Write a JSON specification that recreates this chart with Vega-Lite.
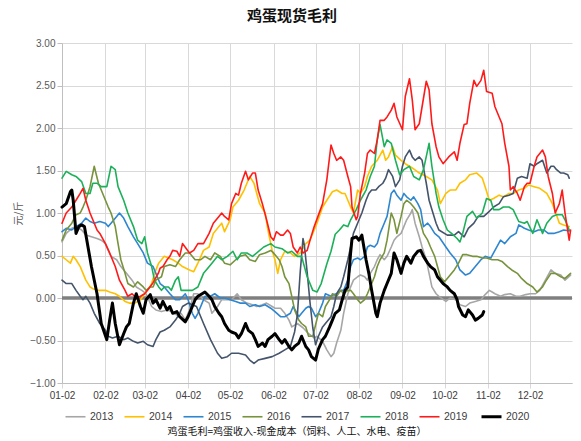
{
"$schema": "https://vega.github.io/schema/vega-lite/v6.json",
"width": 510, "height": 340,
"autosize": {"type": "none"},
"padding": {"left": 62, "top": 43, "right": 9, "bottom": 58},
"background": "white",
"config": {"view": {"stroke": null}, "font": "Liberation Sans"},
"title": {"text": "鸡蛋现货毛利", "font": "Noto Sans CJK SC", "fontSize": 15, "fontWeight": "bold", "color": "#111111", "anchor": "middle", "dx": -25, "offset": 14},
"layer": [
{"data": {"values": [{}]}, "mark": {"type": "rule", "color": "#7F7F7F", "strokeWidth": 3.5}, "encoding": {"y": {"datum": 0, "type": "quantitative", "scale": {"domain": [-1, 3], "nice": false}}}},
{"data": {"values": [
{"year":"2013","day":2,"v":0.66},{"year":"2013","day":5,"v":0.76},{"year":"2013","day":9,"v":0.82},{"year":"2013","day":12,"v":0.84},{"year":"2013","day":16,"v":0.80},{"year":"2013","day":19,"v":0.74},{"year":"2013","day":23,"v":0.72},{"year":"2013","day":27,"v":0.70},{"year":"2013","day":30,"v":0.68},{"year":"2013","day":33,"v":0.64},{"year":"2013","day":35,"v":0.56},{"year":"2013","day":37,"v":0.49},{"year":"2013","day":41,"v":0.45},{"year":"2013","day":44,"v":0.37},{"year":"2013","day":48,"v":0.29},{"year":"2013","day":52,"v":0.21},{"year":"2013","day":55,"v":0.13},{"year":"2013","day":59,"v":0.09},{"year":"2013","day":62,"v":0.05},{"year":"2013","day":66,"v":-0.10},{"year":"2013","day":69,"v":-0.14},{"year":"2013","day":73,"v":-0.16},{"year":"2013","day":77,"v":-0.14},{"year":"2013","day":80,"v":-0.16},{"year":"2013","day":84,"v":-0.20},{"year":"2013","day":87,"v":-0.18},{"year":"2013","day":90,"v":-0.26},{"year":"2013","day":93,"v":-0.14},{"year":"2013","day":96,"v":0.05},{"year":"2013","day":99,"v":0.05},{"year":"2013","day":103,"v":-0.02},{"year":"2013","day":107,"v":-0.06},{"year":"2013","day":109,"v":-0.18},{"year":"2013","day":113,"v":-0.10},{"year":"2013","day":116,"v":-0.02},{"year":"2013","day":120,"v":-0.02},{"year":"2013","day":123,"v":-0.02},{"year":"2013","day":127,"v":0.05},{"year":"2013","day":130,"v":-0.02},{"year":"2013","day":134,"v":-0.06},{"year":"2013","day":138,"v":-0.08},{"year":"2013","day":141,"v":-0.10},{"year":"2013","day":145,"v":-0.08},{"year":"2013","day":148,"v":-0.06},{"year":"2013","day":152,"v":-0.10},{"year":"2013","day":154,"v":-0.12},{"year":"2013","day":158,"v":-0.12},{"year":"2013","day":161,"v":-0.18},{"year":"2013","day":164,"v":-0.26},{"year":"2013","day":166,"v":-0.34},{"year":"2013","day":170,"v":-0.30},{"year":"2013","day":174,"v":-0.35},{"year":"2013","day":178,"v":-0.42},{"year":"2013","day":182,"v":-0.47},{"year":"2013","day":184,"v":-0.45},{"year":"2013","day":188,"v":-0.51},{"year":"2013","day":191,"v":-0.61},{"year":"2013","day":194,"v":-0.69},{"year":"2013","day":196,"v":-0.65},{"year":"2013","day":198,"v":-0.53},{"year":"2013","day":201,"v":-0.38},{"year":"2013","day":203,"v":-0.18},{"year":"2013","day":206,"v":0.05},{"year":"2013","day":208,"v":0.13},{"year":"2013","day":210,"v":0.21},{"year":"2013","day":213,"v":0.25},{"year":"2013","day":215,"v":0.27},{"year":"2013","day":218,"v":0.25},{"year":"2013","day":220,"v":0.21},{"year":"2013","day":222,"v":0.29},{"year":"2013","day":225,"v":0.37},{"year":"2013","day":227,"v":0.45},{"year":"2013","day":229,"v":0.51},{"year":"2013","day":232,"v":0.45},{"year":"2013","day":234,"v":0.49},{"year":"2013","day":237,"v":0.60},{"year":"2013","day":239,"v":0.68},{"year":"2013","day":241,"v":0.72},{"year":"2013","day":244,"v":0.76},{"year":"2013","day":246,"v":0.84},{"year":"2013","day":248,"v":0.92},{"year":"2013","day":251,"v":1.00},{"year":"2013","day":252,"v":1.04},{"year":"2013","day":254,"v":0.88},{"year":"2013","day":257,"v":0.72},{"year":"2013","day":259,"v":0.60},{"year":"2013","day":262,"v":0.45},{"year":"2013","day":264,"v":0.29},{"year":"2013","day":266,"v":0.13},{"year":"2013","day":269,"v":0.05},{"year":"2013","day":271,"v":0.02},{"year":"2013","day":276,"v":-0.04},{"year":"2013","day":279,"v":0.00},{"year":"2013","day":283,"v":-0.02},{"year":"2013","day":286,"v":-0.08},{"year":"2013","day":290,"v":-0.10},{"year":"2013","day":293,"v":-0.06},{"year":"2013","day":297,"v":-0.04},{"year":"2013","day":301,"v":-0.02},{"year":"2013","day":304,"v":0.04},{"year":"2013","day":307,"v":0.09},{"year":"2013","day":309,"v":0.07},{"year":"2013","day":311,"v":0.05},{"year":"2013","day":315,"v":0.02},{"year":"2013","day":318,"v":0.04},{"year":"2013","day":322,"v":0.05},{"year":"2013","day":326,"v":0.02},{"year":"2013","day":329,"v":0.02},{"year":"2013","day":333,"v":0.04},{"year":"2013","day":336,"v":0.05},{"year":"2013","day":340,"v":0.05},{"year":"2013","day":343,"v":0.09},{"year":"2013","day":347,"v":0.21},{"year":"2013","day":351,"v":0.33},{"year":"2013","day":354,"v":0.29},{"year":"2013","day":358,"v":0.27},{"year":"2013","day":361,"v":0.21},{"year":"2013","day":365,"v":0.27},
{"year":"2014","day":2,"v":0.49},{"year":"2014","day":5,"v":0.45},{"year":"2014","day":8,"v":0.41},{"year":"2014","day":10,"v":0.49},{"year":"2014","day":12,"v":0.45},{"year":"2014","day":15,"v":0.37},{"year":"2014","day":17,"v":0.29},{"year":"2014","day":19,"v":0.21},{"year":"2014","day":22,"v":0.13},{"year":"2014","day":24,"v":0.11},{"year":"2014","day":28,"v":0.09},{"year":"2014","day":33,"v":0.09},{"year":"2014","day":36,"v":0.07},{"year":"2014","day":40,"v":0.05},{"year":"2014","day":43,"v":0.02},{"year":"2014","day":47,"v":-0.04},{"year":"2014","day":50,"v":-0.06},{"year":"2014","day":54,"v":-0.06},{"year":"2014","day":58,"v":-0.02},{"year":"2014","day":61,"v":0.05},{"year":"2014","day":63,"v":0.09},{"year":"2014","day":66,"v":0.17},{"year":"2014","day":68,"v":0.29},{"year":"2014","day":71,"v":0.41},{"year":"2014","day":73,"v":0.45},{"year":"2014","day":75,"v":0.49},{"year":"2014","day":78,"v":0.47},{"year":"2014","day":81,"v":0.45},{"year":"2014","day":85,"v":0.41},{"year":"2014","day":88,"v":0.37},{"year":"2014","day":93,"v":0.33},{"year":"2014","day":96,"v":0.31},{"year":"2014","day":99,"v":0.41},{"year":"2014","day":103,"v":0.56},{"year":"2014","day":107,"v":0.60},{"year":"2014","day":110,"v":0.76},{"year":"2014","day":114,"v":0.84},{"year":"2014","day":116,"v":0.88},{"year":"2014","day":118,"v":0.78},{"year":"2014","day":122,"v":0.92},{"year":"2014","day":124,"v":1.07},{"year":"2014","day":128,"v":1.15},{"year":"2014","day":132,"v":1.27},{"year":"2014","day":134,"v":1.35},{"year":"2014","day":136,"v":1.43},{"year":"2014","day":139,"v":1.35},{"year":"2014","day":141,"v":1.23},{"year":"2014","day":143,"v":1.11},{"year":"2014","day":147,"v":1.00},{"year":"2014","day":149,"v":0.80},{"year":"2014","day":152,"v":0.56},{"year":"2014","day":154,"v":0.45},{"year":"2014","day":156,"v":0.29},{"year":"2014","day":158,"v":0.45},{"year":"2014","day":161,"v":0.55},{"year":"2014","day":165,"v":0.53},{"year":"2014","day":168,"v":0.49},{"year":"2014","day":172,"v":0.53},{"year":"2014","day":176,"v":0.64},{"year":"2014","day":179,"v":0.68},{"year":"2014","day":184,"v":0.88},{"year":"2014","day":188,"v":1.07},{"year":"2014","day":191,"v":1.15},{"year":"2014","day":195,"v":1.25},{"year":"2014","day":198,"v":1.27},{"year":"2014","day":202,"v":1.23},{"year":"2014","day":204,"v":1.23},{"year":"2014","day":208,"v":1.07},{"year":"2014","day":210,"v":1.00},{"year":"2014","day":213,"v":1.27},{"year":"2014","day":215,"v":1.23},{"year":"2014","day":218,"v":1.31},{"year":"2014","day":220,"v":1.43},{"year":"2014","day":223,"v":1.55},{"year":"2014","day":227,"v":1.62},{"year":"2014","day":231,"v":1.74},{"year":"2014","day":233,"v":1.62},{"year":"2014","day":235,"v":1.66},{"year":"2014","day":238,"v":1.78},{"year":"2014","day":240,"v":1.68},{"year":"2014","day":244,"v":1.62},{"year":"2014","day":247,"v":1.58},{"year":"2014","day":252,"v":1.53},{"year":"2014","day":257,"v":1.47},{"year":"2014","day":262,"v":1.43},{"year":"2014","day":266,"v":1.39},{"year":"2014","day":270,"v":1.27},{"year":"2014","day":272,"v":1.11},{"year":"2014","day":276,"v":1.23},{"year":"2014","day":279,"v":1.27},{"year":"2014","day":283,"v":1.27},{"year":"2014","day":286,"v":1.35},{"year":"2014","day":290,"v":1.39},{"year":"2014","day":293,"v":1.45},{"year":"2014","day":298,"v":1.47},{"year":"2014","day":302,"v":1.41},{"year":"2014","day":304,"v":1.31},{"year":"2014","day":307,"v":1.15},{"year":"2014","day":310,"v":1.17},{"year":"2014","day":314,"v":1.21},{"year":"2014","day":317,"v":1.19},{"year":"2014","day":321,"v":1.23},{"year":"2014","day":324,"v":1.23},{"year":"2014","day":328,"v":1.27},{"year":"2014","day":332,"v":1.29},{"year":"2014","day":335,"v":1.33},{"year":"2014","day":339,"v":1.31},{"year":"2014","day":343,"v":1.29},{"year":"2014","day":348,"v":1.23},{"year":"2014","day":352,"v":1.11},{"year":"2014","day":354,"v":1.02},{"year":"2014","day":357,"v":0.88},{"year":"2014","day":360,"v":0.86},{"year":"2014","day":364,"v":0.84},
{"year":"2015","day":2,"v":0.78},{"year":"2015","day":5,"v":0.82},{"year":"2015","day":9,"v":0.80},{"year":"2015","day":12,"v":0.84},{"year":"2015","day":16,"v":0.88},{"year":"2015","day":19,"v":0.94},{"year":"2015","day":22,"v":0.90},{"year":"2015","day":25,"v":0.88},{"year":"2015","day":29,"v":0.90},{"year":"2015","day":33,"v":0.88},{"year":"2015","day":35,"v":0.84},{"year":"2015","day":37,"v":0.88},{"year":"2015","day":41,"v":0.96},{"year":"2015","day":43,"v":1.00},{"year":"2015","day":46,"v":0.94},{"year":"2015","day":49,"v":0.84},{"year":"2015","day":53,"v":0.72},{"year":"2015","day":56,"v":0.64},{"year":"2015","day":60,"v":0.53},{"year":"2015","day":63,"v":0.41},{"year":"2015","day":67,"v":0.37},{"year":"2015","day":69,"v":0.29},{"year":"2015","day":72,"v":0.17},{"year":"2015","day":75,"v":0.13},{"year":"2015","day":79,"v":0.05},{"year":"2015","day":83,"v":-0.02},{"year":"2015","day":86,"v":-0.02},{"year":"2015","day":90,"v":0.05},{"year":"2015","day":92,"v":-0.02},{"year":"2015","day":95,"v":-0.18},{"year":"2015","day":97,"v":-0.24},{"year":"2015","day":99,"v":-0.18},{"year":"2015","day":102,"v":-0.06},{"year":"2015","day":104,"v":0.02},{"year":"2015","day":108,"v":0.02},{"year":"2015","day":111,"v":0.05},{"year":"2015","day":115,"v":0.00},{"year":"2015","day":118,"v":0.00},{"year":"2015","day":122,"v":-0.02},{"year":"2015","day":126,"v":-0.04},{"year":"2015","day":129,"v":-0.06},{"year":"2015","day":133,"v":-0.06},{"year":"2015","day":136,"v":-0.10},{"year":"2015","day":140,"v":-0.08},{"year":"2015","day":143,"v":-0.10},{"year":"2015","day":147,"v":-0.08},{"year":"2015","day":151,"v":-0.12},{"year":"2015","day":154,"v":-0.16},{"year":"2015","day":158,"v":-0.22},{"year":"2015","day":161,"v":-0.22},{"year":"2015","day":165,"v":-0.18},{"year":"2015","day":167,"v":-0.10},{"year":"2015","day":171,"v":-0.22},{"year":"2015","day":173,"v":-0.18},{"year":"2015","day":176,"v":-0.12},{"year":"2015","day":178,"v":-0.10},{"year":"2015","day":180,"v":-0.12},{"year":"2015","day":183,"v":-0.22},{"year":"2015","day":185,"v":-0.18},{"year":"2015","day":188,"v":-0.06},{"year":"2015","day":190,"v":0.05},{"year":"2015","day":194,"v":0.02},{"year":"2015","day":196,"v":0.04},{"year":"2015","day":198,"v":0.05},{"year":"2015","day":201,"v":0.09},{"year":"2015","day":203,"v":0.09},{"year":"2015","day":206,"v":0.21},{"year":"2015","day":208,"v":0.37},{"year":"2015","day":210,"v":0.45},{"year":"2015","day":213,"v":0.47},{"year":"2015","day":215,"v":0.45},{"year":"2015","day":218,"v":0.49},{"year":"2015","day":220,"v":0.60},{"year":"2015","day":222,"v":0.62},{"year":"2015","day":225,"v":0.60},{"year":"2015","day":227,"v":0.64},{"year":"2015","day":229,"v":0.76},{"year":"2015","day":232,"v":0.88},{"year":"2015","day":234,"v":0.96},{"year":"2015","day":237,"v":1.23},{"year":"2015","day":239,"v":1.27},{"year":"2015","day":241,"v":1.21},{"year":"2015","day":244,"v":1.15},{"year":"2015","day":246,"v":1.23},{"year":"2015","day":248,"v":1.19},{"year":"2015","day":251,"v":1.15},{"year":"2015","day":253,"v":1.19},{"year":"2015","day":256,"v":1.11},{"year":"2015","day":258,"v":1.04},{"year":"2015","day":260,"v":0.84},{"year":"2015","day":263,"v":0.88},{"year":"2015","day":265,"v":0.84},{"year":"2015","day":268,"v":0.76},{"year":"2015","day":271,"v":0.72},{"year":"2015","day":276,"v":0.60},{"year":"2015","day":279,"v":0.53},{"year":"2015","day":283,"v":0.45},{"year":"2015","day":286,"v":0.33},{"year":"2015","day":290,"v":0.27},{"year":"2015","day":293,"v":0.29},{"year":"2015","day":297,"v":0.37},{"year":"2015","day":301,"v":0.45},{"year":"2015","day":304,"v":0.49},{"year":"2015","day":308,"v":0.47},{"year":"2015","day":311,"v":0.56},{"year":"2015","day":315,"v":0.68},{"year":"2015","day":318,"v":0.64},{"year":"2015","day":322,"v":0.72},{"year":"2015","day":326,"v":0.76},{"year":"2015","day":328,"v":0.86},{"year":"2015","day":332,"v":0.82},{"year":"2015","day":335,"v":0.80},{"year":"2015","day":339,"v":0.78},{"year":"2015","day":342,"v":0.80},{"year":"2015","day":346,"v":0.80},{"year":"2015","day":349,"v":0.76},{"year":"2015","day":353,"v":0.76},{"year":"2015","day":357,"v":0.78},{"year":"2015","day":360,"v":0.80},{"year":"2015","day":364,"v":0.79},
{"year":"2016","day":2,"v":0.68},{"year":"2016","day":5,"v":0.80},{"year":"2016","day":9,"v":0.88},{"year":"2016","day":12,"v":0.98},{"year":"2016","day":15,"v":1.00},{"year":"2016","day":17,"v":1.07},{"year":"2016","day":19,"v":1.15},{"year":"2016","day":22,"v":1.31},{"year":"2016","day":25,"v":1.55},{"year":"2016","day":28,"v":1.35},{"year":"2016","day":30,"v":1.27},{"year":"2016","day":33,"v":1.15},{"year":"2016","day":35,"v":1.07},{"year":"2016","day":37,"v":1.00},{"year":"2016","day":40,"v":0.84},{"year":"2016","day":42,"v":0.64},{"year":"2016","day":44,"v":0.45},{"year":"2016","day":47,"v":0.29},{"year":"2016","day":49,"v":0.17},{"year":"2016","day":53,"v":0.13},{"year":"2016","day":56,"v":0.19},{"year":"2016","day":60,"v":0.13},{"year":"2016","day":62,"v":0.09},{"year":"2016","day":65,"v":0.13},{"year":"2016","day":67,"v":0.13},{"year":"2016","day":69,"v":0.21},{"year":"2016","day":73,"v":0.25},{"year":"2016","day":75,"v":0.37},{"year":"2016","day":79,"v":0.39},{"year":"2016","day":83,"v":0.37},{"year":"2016","day":86,"v":0.45},{"year":"2016","day":90,"v":0.53},{"year":"2016","day":93,"v":0.53},{"year":"2016","day":97,"v":0.45},{"year":"2016","day":101,"v":0.45},{"year":"2016","day":104,"v":0.49},{"year":"2016","day":108,"v":0.45},{"year":"2016","day":111,"v":0.53},{"year":"2016","day":115,"v":0.49},{"year":"2016","day":118,"v":0.41},{"year":"2016","day":122,"v":0.39},{"year":"2016","day":126,"v":0.45},{"year":"2016","day":129,"v":0.49},{"year":"2016","day":133,"v":0.51},{"year":"2016","day":136,"v":0.45},{"year":"2016","day":140,"v":0.43},{"year":"2016","day":143,"v":0.51},{"year":"2016","day":147,"v":0.53},{"year":"2016","day":151,"v":0.56},{"year":"2016","day":153,"v":0.53},{"year":"2016","day":157,"v":0.45},{"year":"2016","day":159,"v":0.37},{"year":"2016","day":161,"v":0.25},{"year":"2016","day":164,"v":0.17},{"year":"2016","day":166,"v":0.02},{"year":"2016","day":168,"v":-0.14},{"year":"2016","day":171,"v":-0.26},{"year":"2016","day":173,"v":-0.30},{"year":"2016","day":176,"v":-0.34},{"year":"2016","day":178,"v":-0.45},{"year":"2016","day":181,"v":-0.45},{"year":"2016","day":185,"v":-0.18},{"year":"2016","day":188,"v":-0.22},{"year":"2016","day":190,"v":-0.10},{"year":"2016","day":193,"v":-0.02},{"year":"2016","day":195,"v":0.05},{"year":"2016","day":198,"v":0.02},{"year":"2016","day":201,"v":0.09},{"year":"2016","day":203,"v":0.05},{"year":"2016","day":206,"v":0.09},{"year":"2016","day":208,"v":0.09},{"year":"2016","day":210,"v":0.05},{"year":"2016","day":213,"v":-0.02},{"year":"2016","day":215,"v":-0.06},{"year":"2016","day":218,"v":-0.02},{"year":"2016","day":220,"v":0.05},{"year":"2016","day":222,"v":0.13},{"year":"2016","day":225,"v":0.25},{"year":"2016","day":227,"v":0.37},{"year":"2016","day":229,"v":0.45},{"year":"2016","day":232,"v":0.53},{"year":"2016","day":234,"v":0.68},{"year":"2016","day":237,"v":1.00},{"year":"2016","day":239,"v":0.92},{"year":"2016","day":241,"v":0.76},{"year":"2016","day":244,"v":0.96},{"year":"2016","day":246,"v":1.11},{"year":"2016","day":248,"v":1.15},{"year":"2016","day":251,"v":1.11},{"year":"2016","day":253,"v":1.07},{"year":"2016","day":256,"v":1.00},{"year":"2016","day":258,"v":0.88},{"year":"2016","day":260,"v":0.76},{"year":"2016","day":263,"v":0.68},{"year":"2016","day":265,"v":0.60},{"year":"2016","day":268,"v":0.49},{"year":"2016","day":270,"v":0.37},{"year":"2016","day":272,"v":0.25},{"year":"2016","day":275,"v":0.19},{"year":"2016","day":277,"v":0.23},{"year":"2016","day":282,"v":0.33},{"year":"2016","day":285,"v":0.41},{"year":"2016","day":288,"v":0.51},{"year":"2016","day":291,"v":0.51},{"year":"2016","day":295,"v":0.49},{"year":"2016","day":298,"v":0.49},{"year":"2016","day":302,"v":0.47},{"year":"2016","day":305,"v":0.47},{"year":"2016","day":309,"v":0.45},{"year":"2016","day":313,"v":0.45},{"year":"2016","day":316,"v":0.43},{"year":"2016","day":320,"v":0.37},{"year":"2016","day":323,"v":0.33},{"year":"2016","day":327,"v":0.29},{"year":"2016","day":330,"v":0.23},{"year":"2016","day":334,"v":0.17},{"year":"2016","day":338,"v":0.13},{"year":"2016","day":341,"v":0.07},{"year":"2016","day":345,"v":0.13},{"year":"2016","day":347,"v":0.19},{"year":"2016","day":351,"v":0.29},{"year":"2016","day":354,"v":0.29},{"year":"2016","day":358,"v":0.25},{"year":"2016","day":361,"v":0.23},{"year":"2016","day":365,"v":0.29},
{"year":"2017","day":2,"v":0.21},{"year":"2017","day":5,"v":0.17},{"year":"2017","day":9,"v":0.17},{"year":"2017","day":12,"v":0.09},{"year":"2017","day":15,"v":0.02},{"year":"2017","day":17,"v":-0.02},{"year":"2017","day":19,"v":0.02},{"year":"2017","day":22,"v":-0.06},{"year":"2017","day":25,"v":-0.18},{"year":"2017","day":29,"v":-0.30},{"year":"2017","day":33,"v":-0.38},{"year":"2017","day":35,"v":-0.45},{"year":"2017","day":38,"v":-0.47},{"year":"2017","day":42,"v":-0.45},{"year":"2017","day":46,"v":-0.49},{"year":"2017","day":49,"v":-0.47},{"year":"2017","day":53,"v":-0.51},{"year":"2017","day":56,"v":-0.53},{"year":"2017","day":60,"v":-0.51},{"year":"2017","day":63,"v":-0.55},{"year":"2017","day":67,"v":-0.57},{"year":"2017","day":69,"v":-0.49},{"year":"2017","day":72,"v":-0.40},{"year":"2017","day":75,"v":-0.38},{"year":"2017","day":79,"v":-0.34},{"year":"2017","day":83,"v":-0.26},{"year":"2017","day":86,"v":-0.18},{"year":"2017","day":88,"v":-0.10},{"year":"2017","day":92,"v":-0.06},{"year":"2017","day":98,"v":-0.10},{"year":"2017","day":103,"v":-0.30},{"year":"2017","day":108,"v":-0.49},{"year":"2017","day":113,"v":-0.65},{"year":"2017","day":116,"v":-0.71},{"year":"2017","day":120,"v":-0.69},{"year":"2017","day":123,"v":-0.65},{"year":"2017","day":128,"v":-0.65},{"year":"2017","day":133,"v":-0.67},{"year":"2017","day":136,"v":-0.73},{"year":"2017","day":139,"v":-0.77},{"year":"2017","day":142,"v":-0.73},{"year":"2017","day":147,"v":-0.71},{"year":"2017","day":152,"v":-0.69},{"year":"2017","day":157,"v":-0.65},{"year":"2017","day":161,"v":-0.61},{"year":"2017","day":165,"v":-0.57},{"year":"2017","day":168,"v":-0.40},{"year":"2017","day":170,"v":-0.20},{"year":"2017","day":172,"v":0.30},{"year":"2017","day":174,"v":0.70},{"year":"2017","day":175,"v":0.62},{"year":"2017","day":177,"v":0.30},{"year":"2017","day":179,"v":-0.05},{"year":"2017","day":181,"v":-0.35},{"year":"2017","day":183,"v":-0.55},{"year":"2017","day":185,"v":-0.45},{"year":"2017","day":188,"v":-0.34},{"year":"2017","day":190,"v":-0.30},{"year":"2017","day":194,"v":-0.22},{"year":"2017","day":196,"v":-0.10},{"year":"2017","day":198,"v":0.05},{"year":"2017","day":201,"v":0.13},{"year":"2017","day":203,"v":0.25},{"year":"2017","day":206,"v":0.45},{"year":"2017","day":208,"v":0.60},{"year":"2017","day":210,"v":0.76},{"year":"2017","day":214,"v":0.92},{"year":"2017","day":216,"v":1.00},{"year":"2017","day":219,"v":1.15},{"year":"2017","day":221,"v":1.23},{"year":"2017","day":223,"v":1.27},{"year":"2017","day":226,"v":1.27},{"year":"2017","day":228,"v":1.31},{"year":"2017","day":231,"v":1.35},{"year":"2017","day":233,"v":1.41},{"year":"2017","day":235,"v":1.51},{"year":"2017","day":238,"v":1.43},{"year":"2017","day":240,"v":1.31},{"year":"2017","day":243,"v":1.39},{"year":"2017","day":245,"v":1.55},{"year":"2017","day":247,"v":1.66},{"year":"2017","day":250,"v":1.74},{"year":"2017","day":252,"v":1.66},{"year":"2017","day":254,"v":1.62},{"year":"2017","day":257,"v":1.66},{"year":"2017","day":259,"v":1.62},{"year":"2017","day":262,"v":1.35},{"year":"2017","day":264,"v":1.15},{"year":"2017","day":266,"v":1.04},{"year":"2017","day":269,"v":0.88},{"year":"2017","day":271,"v":0.80},{"year":"2017","day":277,"v":0.74},{"year":"2017","day":282,"v":0.74},{"year":"2017","day":285,"v":0.78},{"year":"2017","day":289,"v":0.72},{"year":"2017","day":292,"v":0.82},{"year":"2017","day":296,"v":0.88},{"year":"2017","day":299,"v":0.96},{"year":"2017","day":303,"v":0.96},{"year":"2017","day":307,"v":1.02},{"year":"2017","day":310,"v":1.07},{"year":"2017","day":314,"v":1.11},{"year":"2017","day":317,"v":1.19},{"year":"2017","day":321,"v":1.21},{"year":"2017","day":324,"v":1.23},{"year":"2017","day":327,"v":1.41},{"year":"2017","day":330,"v":1.43},{"year":"2017","day":334,"v":1.41},{"year":"2017","day":336,"v":1.58},{"year":"2017","day":339,"v":1.55},{"year":"2017","day":341,"v":1.58},{"year":"2017","day":345,"v":1.62},{"year":"2017","day":348,"v":1.47},{"year":"2017","day":351,"v":1.55},{"year":"2017","day":353,"v":1.55},{"year":"2017","day":355,"v":1.51},{"year":"2017","day":358,"v":1.47},{"year":"2017","day":360,"v":1.47},{"year":"2017","day":363,"v":1.45},{"year":"2017","day":364,"v":1.41},
{"year":"2018","day":2,"v":1.41},{"year":"2018","day":5,"v":1.49},{"year":"2018","day":9,"v":1.45},{"year":"2018","day":12,"v":1.43},{"year":"2018","day":16,"v":1.37},{"year":"2018","day":19,"v":1.23},{"year":"2018","day":22,"v":1.23},{"year":"2018","day":24,"v":1.35},{"year":"2018","day":27,"v":1.35},{"year":"2018","day":30,"v":1.31},{"year":"2018","day":34,"v":1.31},{"year":"2018","day":37,"v":1.55},{"year":"2018","day":40,"v":1.51},{"year":"2018","day":42,"v":1.31},{"year":"2018","day":46,"v":1.15},{"year":"2018","day":49,"v":1.00},{"year":"2018","day":53,"v":0.84},{"year":"2018","day":56,"v":0.68},{"year":"2018","day":59,"v":0.64},{"year":"2018","day":61,"v":0.72},{"year":"2018","day":63,"v":0.53},{"year":"2018","day":66,"v":0.37},{"year":"2018","day":68,"v":0.21},{"year":"2018","day":71,"v":0.13},{"year":"2018","day":73,"v":0.09},{"year":"2018","day":75,"v":0.13},{"year":"2018","day":78,"v":0.13},{"year":"2018","day":80,"v":0.09},{"year":"2018","day":83,"v":0.21},{"year":"2018","day":85,"v":0.25},{"year":"2018","day":87,"v":0.09},{"year":"2018","day":92,"v":0.09},{"year":"2018","day":95,"v":0.09},{"year":"2018","day":99,"v":0.13},{"year":"2018","day":103,"v":0.29},{"year":"2018","day":105,"v":0.33},{"year":"2018","day":109,"v":0.41},{"year":"2018","day":113,"v":0.49},{"year":"2018","day":116,"v":0.45},{"year":"2018","day":120,"v":0.49},{"year":"2018","day":124,"v":0.55},{"year":"2018","day":127,"v":0.45},{"year":"2018","day":130,"v":0.53},{"year":"2018","day":134,"v":0.53},{"year":"2018","day":138,"v":0.49},{"year":"2018","day":141,"v":0.53},{"year":"2018","day":146,"v":0.60},{"year":"2018","day":151,"v":0.64},{"year":"2018","day":154,"v":0.60},{"year":"2018","day":159,"v":0.58},{"year":"2018","day":163,"v":0.53},{"year":"2018","day":166,"v":0.55},{"year":"2018","day":170,"v":0.49},{"year":"2018","day":173,"v":0.49},{"year":"2018","day":177,"v":0.25},{"year":"2018","day":181,"v":0.09},{"year":"2018","day":184,"v":0.07},{"year":"2018","day":187,"v":0.17},{"year":"2018","day":191,"v":0.40},{"year":"2018","day":194,"v":0.55},{"year":"2018","day":197,"v":0.75},{"year":"2018","day":200,"v":0.80},{"year":"2018","day":203,"v":0.86},{"year":"2018","day":206,"v":0.84},{"year":"2018","day":208,"v":0.92},{"year":"2018","day":212,"v":1.04},{"year":"2018","day":215,"v":1.15},{"year":"2018","day":219,"v":1.27},{"year":"2018","day":222,"v":1.43},{"year":"2018","day":225,"v":1.55},{"year":"2018","day":227,"v":1.86},{"year":"2018","day":229,"v":2.04},{"year":"2018","day":232,"v":1.78},{"year":"2018","day":234,"v":1.86},{"year":"2018","day":237,"v":1.82},{"year":"2018","day":240,"v":1.62},{"year":"2018","day":243,"v":1.45},{"year":"2018","day":246,"v":1.51},{"year":"2018","day":250,"v":1.55},{"year":"2018","day":253,"v":1.43},{"year":"2018","day":257,"v":1.39},{"year":"2018","day":260,"v":1.51},{"year":"2018","day":264,"v":1.82},{"year":"2018","day":266,"v":1.55},{"year":"2018","day":269,"v":1.23},{"year":"2018","day":271,"v":1.07},{"year":"2018","day":274,"v":0.92},{"year":"2018","day":277,"v":0.80},{"year":"2018","day":280,"v":0.76},{"year":"2018","day":284,"v":0.70},{"year":"2018","day":286,"v":0.66},{"year":"2018","day":288,"v":0.76},{"year":"2018","day":291,"v":0.96},{"year":"2018","day":295,"v":1.02},{"year":"2018","day":298,"v":0.94},{"year":"2018","day":302,"v":1.00},{"year":"2018","day":305,"v":1.17},{"year":"2018","day":308,"v":1.15},{"year":"2018","day":310,"v":1.04},{"year":"2018","day":314,"v":1.04},{"year":"2018","day":317,"v":1.07},{"year":"2018","day":321,"v":1.07},{"year":"2018","day":324,"v":1.04},{"year":"2018","day":328,"v":0.90},{"year":"2018","day":332,"v":0.88},{"year":"2018","day":334,"v":0.90},{"year":"2018","day":338,"v":0.76},{"year":"2018","day":341,"v":0.92},{"year":"2018","day":345,"v":0.76},{"year":"2018","day":348,"v":0.88},{"year":"2018","day":352,"v":0.96},{"year":"2018","day":355,"v":0.98},{"year":"2018","day":359,"v":0.98},{"year":"2018","day":361,"v":0.92},{"year":"2018","day":364,"v":0.80},
{"year":"2019","day":2,"v":0.88},{"year":"2019","day":5,"v":1.00},{"year":"2019","day":9,"v":1.07},{"year":"2019","day":12,"v":1.15},{"year":"2019","day":15,"v":1.23},{"year":"2019","day":17,"v":1.29},{"year":"2019","day":19,"v":1.15},{"year":"2019","day":22,"v":1.00},{"year":"2019","day":24,"v":0.92},{"year":"2019","day":27,"v":0.80},{"year":"2019","day":29,"v":0.76},{"year":"2019","day":33,"v":0.64},{"year":"2019","day":36,"v":0.53},{"year":"2019","day":40,"v":0.37},{"year":"2019","day":43,"v":0.21},{"year":"2019","day":47,"v":0.09},{"year":"2019","day":49,"v":0.02},{"year":"2019","day":52,"v":0.05},{"year":"2019","day":55,"v":0.00},{"year":"2019","day":58,"v":0.02},{"year":"2019","day":61,"v":0.05},{"year":"2019","day":63,"v":0.09},{"year":"2019","day":67,"v":0.18},{"year":"2019","day":71,"v":0.30},{"year":"2019","day":72,"v":0.35},{"year":"2019","day":74,"v":0.37},{"year":"2019","day":77,"v":0.45},{"year":"2019","day":79,"v":0.49},{"year":"2019","day":81,"v":0.56},{"year":"2019","day":84,"v":0.55},{"year":"2019","day":86,"v":0.49},{"year":"2019","day":88,"v":0.64},{"year":"2019","day":93,"v":0.53},{"year":"2019","day":96,"v":0.56},{"year":"2019","day":99,"v":0.64},{"year":"2019","day":103,"v":0.64},{"year":"2019","day":107,"v":0.76},{"year":"2019","day":110,"v":0.88},{"year":"2019","day":114,"v":0.96},{"year":"2019","day":116,"v":1.00},{"year":"2019","day":118,"v":0.96},{"year":"2019","day":121,"v":0.92},{"year":"2019","day":123,"v":1.11},{"year":"2019","day":126,"v":1.23},{"year":"2019","day":128,"v":1.21},{"year":"2019","day":130,"v":1.35},{"year":"2019","day":133,"v":1.49},{"year":"2019","day":135,"v":1.39},{"year":"2019","day":138,"v":1.47},{"year":"2019","day":140,"v":1.47},{"year":"2019","day":142,"v":1.27},{"year":"2019","day":145,"v":1.11},{"year":"2019","day":148,"v":0.92},{"year":"2019","day":151,"v":0.72},{"year":"2019","day":153,"v":0.68},{"year":"2019","day":155,"v":0.78},{"year":"2019","day":158,"v":0.74},{"year":"2019","day":160,"v":0.74},{"year":"2019","day":163,"v":0.80},{"year":"2019","day":165,"v":0.76},{"year":"2019","day":167,"v":0.60},{"year":"2019","day":170,"v":0.53},{"year":"2019","day":172,"v":0.60},{"year":"2019","day":174,"v":0.53},{"year":"2019","day":177,"v":0.56},{"year":"2019","day":179,"v":0.68},{"year":"2019","day":182,"v":0.84},{"year":"2019","day":188,"v":1.11},{"year":"2019","day":191,"v":1.39},{"year":"2019","day":194,"v":1.80},{"year":"2019","day":196,"v":1.70},{"year":"2019","day":198,"v":1.62},{"year":"2019","day":201,"v":1.66},{"year":"2019","day":203,"v":1.62},{"year":"2019","day":206,"v":1.43},{"year":"2019","day":208,"v":1.31},{"year":"2019","day":209,"v":1.07},{"year":"2019","day":212,"v":0.92},{"year":"2019","day":213,"v":0.96},{"year":"2019","day":215,"v":1.23},{"year":"2019","day":218,"v":1.47},{"year":"2019","day":220,"v":1.70},{"year":"2019","day":222,"v":1.74},{"year":"2019","day":225,"v":1.70},{"year":"2019","day":227,"v":1.86},{"year":"2019","day":229,"v":2.09},{"year":"2019","day":232,"v":2.09},{"year":"2019","day":234,"v":2.13},{"year":"2019","day":237,"v":2.21},{"year":"2019","day":239,"v":2.29},{"year":"2019","day":241,"v":2.13},{"year":"2019","day":245,"v":1.98},{"year":"2019","day":247,"v":2.37},{"year":"2019","day":250,"v":2.58},{"year":"2019","day":252,"v":2.33},{"year":"2019","day":254,"v":1.98},{"year":"2019","day":257,"v":2.05},{"year":"2019","day":259,"v":2.25},{"year":"2019","day":262,"v":2.55},{"year":"2019","day":264,"v":2.45},{"year":"2019","day":266,"v":2.05},{"year":"2019","day":269,"v":1.78},{"year":"2019","day":271,"v":1.66},{"year":"2019","day":274,"v":1.58},{"year":"2019","day":278,"v":1.66},{"year":"2019","day":282,"v":1.72},{"year":"2019","day":284,"v":1.62},{"year":"2019","day":286,"v":1.82},{"year":"2019","day":289,"v":2.04},{"year":"2019","day":291,"v":2.05},{"year":"2019","day":293,"v":2.29},{"year":"2019","day":296,"v":2.56},{"year":"2019","day":298,"v":2.49},{"year":"2019","day":301,"v":2.56},{"year":"2019","day":303,"v":2.68},{"year":"2019","day":305,"v":2.43},{"year":"2019","day":309,"v":2.41},{"year":"2019","day":311,"v":2.25},{"year":"2019","day":314,"v":2.13},{"year":"2019","day":316,"v":2.05},{"year":"2019","day":318,"v":1.82},{"year":"2019","day":321,"v":1.55},{"year":"2019","day":322,"v":1.27},{"year":"2019","day":324,"v":1.31},{"year":"2019","day":327,"v":1.23},{"year":"2019","day":329,"v":1.15},{"year":"2019","day":332,"v":1.31},{"year":"2019","day":334,"v":1.35},{"year":"2019","day":336,"v":1.35},{"year":"2019","day":339,"v":1.55},{"year":"2019","day":341,"v":1.66},{"year":"2019","day":345,"v":1.74},{"year":"2019","day":347,"v":1.66},{"year":"2019","day":349,"v":1.43},{"year":"2019","day":352,"v":1.23},{"year":"2019","day":354,"v":1.00},{"year":"2019","day":357,"v":1.11},{"year":"2019","day":359,"v":1.27},{"year":"2019","day":361,"v":1.00},{"year":"2019","day":364,"v":0.68},{"year":"2019","day":365,"v":0.80},
{"year":"2020","day":2,"v":1.07},{"year":"2020","day":5,"v":1.11},{"year":"2020","day":8,"v":1.25},{"year":"2020","day":9,"v":1.27},{"year":"2020","day":10,"v":1.15},{"year":"2020","day":12,"v":0.76},{"year":"2020","day":14,"v":0.84},{"year":"2020","day":16,"v":0.86},{"year":"2020","day":18,"v":0.84},{"year":"2020","day":21,"v":0.56},{"year":"2020","day":23,"v":0.37},{"year":"2020","day":27,"v":0.05},{"year":"2020","day":30,"v":-0.30},{"year":"2020","day":34,"v":-0.49},{"year":"2020","day":36,"v":-0.26},{"year":"2020","day":38,"v":-0.06},{"year":"2020","day":40,"v":-0.30},{"year":"2020","day":43,"v":-0.55},{"year":"2020","day":46,"v":-0.42},{"year":"2020","day":48,"v":-0.34},{"year":"2020","day":50,"v":-0.30},{"year":"2020","day":53,"v":-0.06},{"year":"2020","day":55,"v":0.05},{"year":"2020","day":58,"v":-0.10},{"year":"2020","day":60,"v":-0.18},{"year":"2020","day":62,"v":-0.02},{"year":"2020","day":65,"v":0.04},{"year":"2020","day":67,"v":-0.06},{"year":"2020","day":69,"v":-0.02},{"year":"2020","day":72,"v":-0.12},{"year":"2020","day":74,"v":-0.04},{"year":"2020","day":77,"v":-0.14},{"year":"2020","day":79,"v":-0.10},{"year":"2020","day":81,"v":-0.18},{"year":"2020","day":84,"v":-0.16},{"year":"2020","day":86,"v":-0.22},{"year":"2020","day":90,"v":-0.28},{"year":"2020","day":92,"v":-0.22},{"year":"2020","day":95,"v":-0.10},{"year":"2020","day":97,"v":-0.02},{"year":"2020","day":99,"v":0.02},{"year":"2020","day":102,"v":0.05},{"year":"2020","day":104,"v":0.07},{"year":"2020","day":107,"v":0.02},{"year":"2020","day":109,"v":-0.02},{"year":"2020","day":111,"v":-0.10},{"year":"2020","day":114,"v":-0.18},{"year":"2020","day":116,"v":-0.22},{"year":"2020","day":118,"v":-0.30},{"year":"2020","day":121,"v":-0.38},{"year":"2020","day":123,"v":-0.40},{"year":"2020","day":126,"v":-0.42},{"year":"2020","day":128,"v":-0.47},{"year":"2020","day":130,"v":-0.42},{"year":"2020","day":133,"v":-0.30},{"year":"2020","day":135,"v":-0.38},{"year":"2020","day":138,"v":-0.42},{"year":"2020","day":140,"v":-0.49},{"year":"2020","day":142,"v":-0.57},{"year":"2020","day":145,"v":-0.53},{"year":"2020","day":147,"v":-0.57},{"year":"2020","day":149,"v":-0.49},{"year":"2020","day":152,"v":-0.45},{"year":"2020","day":154,"v":-0.42},{"year":"2020","day":157,"v":-0.49},{"year":"2020","day":159,"v":-0.53},{"year":"2020","day":161,"v":-0.49},{"year":"2020","day":164,"v":-0.57},{"year":"2020","day":166,"v":-0.61},{"year":"2020","day":168,"v":-0.57},{"year":"2020","day":171,"v":-0.53},{"year":"2020","day":173,"v":-0.45},{"year":"2020","day":176,"v":-0.57},{"year":"2020","day":178,"v":-0.61},{"year":"2020","day":180,"v":-0.69},{"year":"2020","day":183,"v":-0.73},{"year":"2020","day":185,"v":-0.60},{"year":"2020","day":188,"v":-0.49},{"year":"2020","day":190,"v":-0.45},{"year":"2020","day":193,"v":-0.34},{"year":"2020","day":195,"v":-0.26},{"year":"2020","day":197,"v":-0.18},{"year":"2020","day":200,"v":-0.14},{"year":"2020","day":202,"v":-0.02},{"year":"2020","day":204,"v":0.09},{"year":"2020","day":206,"v":0.13},{"year":"2020","day":208,"v":0.53},{"year":"2020","day":209,"v":0.70},{"year":"2020","day":212,"v":0.72},{"year":"2020","day":214,"v":0.68},{"year":"2020","day":216,"v":0.74},{"year":"2020","day":219,"v":0.45},{"year":"2020","day":221,"v":0.29},{"year":"2020","day":223,"v":0.09},{"year":"2020","day":226,"v":-0.18},{"year":"2020","day":227,"v":-0.22},{"year":"2020","day":229,"v":-0.06},{"year":"2020","day":232,"v":0.09},{"year":"2020","day":234,"v":0.17},{"year":"2020","day":237,"v":0.29},{"year":"2020","day":239,"v":0.53},{"year":"2020","day":241,"v":0.45},{"year":"2020","day":244,"v":0.29},{"year":"2020","day":246,"v":0.41},{"year":"2020","day":248,"v":0.49},{"year":"2020","day":251,"v":0.41},{"year":"2020","day":253,"v":0.49},{"year":"2020","day":256,"v":0.55},{"year":"2020","day":258,"v":0.56},{"year":"2020","day":260,"v":0.49},{"year":"2020","day":263,"v":0.41},{"year":"2020","day":265,"v":0.37},{"year":"2020","day":268,"v":0.33},{"year":"2020","day":270,"v":0.25},{"year":"2020","day":274,"v":0.17},{"year":"2020","day":277,"v":0.13},{"year":"2020","day":279,"v":0.09},{"year":"2020","day":282,"v":0.05},{"year":"2020","day":284,"v":-0.02},{"year":"2020","day":285,"v":-0.10},{"year":"2020","day":288,"v":-0.20},{"year":"2020","day":290,"v":-0.22},{"year":"2020","day":292,"v":-0.14},{"year":"2020","day":295,"v":-0.20},{"year":"2020","day":297,"v":-0.26},{"year":"2020","day":299,"v":-0.24},{"year":"2020","day":302,"v":-0.20},{"year":"2020","day":303,"v":-0.16}
]},
"mark": {"type": "line", "strokeJoin": "round", "strokeCap": "round"},
"encoding": {
"x": {"field": "day", "type": "quantitative", "scale": {"domain": [2, 366], "nice": false, "zero": false},
 "axis": {"values": [2, 33, 61, 92, 122, 153, 183, 214, 245, 275, 306, 336],
 "labelExpr": "['01-02','02-02','03-02','04-02','05-02','06-02','07-02','08-02','09-02','10-02','11-02','12-02'][indexof([2,33,61,92,122,153,183,214,245,275,306,336], datum.value)]",
 "title": null, "grid": true, "gridColor": "#D9D9D9", "domainColor": "#BFBFBF", "tickColor": "#D9D9D9", "tickSize": 5, "labelFontSize": 10, "labelColor": "#404040", "labelFlush": false, "labelOverlap": false, "labelPadding": 2}},
"y": {"field": "v", "type": "quantitative", "scale": {"domain": [-1, 3], "nice": false},
 "axis": {"values": [-1, -0.5, 0, 0.5, 1, 1.5, 2, 2.5, 3], "format": ".2f", "title": "元/斤", "titleFont": "Noto Sans CJK SC", "titleFontSize": 10, "titleFontWeight": "normal", "titleColor": "#595959", "titlePadding": 6, "grid": true, "gridColor": "#D9D9D9", "domainColor": "#BFBFBF", "tickColor": "#BFBFBF", "tickSize": 5, "labelFontSize": 10, "labelColor": "#595959"}},
"color": {"field": "year", "type": "nominal",
 "scale": {"domain": ["2013","2014","2015","2016","2017","2018","2019","2020"], "range": ["#A6A6A6","#FFC000","#2E86D0","#77933C","#44546A","#1DB05A","#FF1A1A","#000000"]},
 "legend": {"orient": "none", "legendX": 2, "legendY": 362, "direction": "horizontal", "columns": 8, "symbolType": "stroke", "symbolSize": 400, "symbolStrokeWidth": 2, "labelFontSize": 10.5, "labelColor": "#404040", "labelOffset": 3, "columnPadding": 7,
 "title": "鸡蛋毛利=鸡蛋收入-现金成本（饲料、人工、水电、疫苗）", "titleOrient": "bottom", "titleFont": "Noto Sans CJK SC", "titleFontSize": 10, "titleFontWeight": "normal", "titleColor": "#111111", "titleAnchor": "middle", "titlePadding": 4, "titleLimit": 500}},
"strokeWidth": {"field": "year", "type": "ordinal",
 "scale": {"type": "ordinal", "domain": ["2013","2014","2015","2016","2017","2018","2019","2020"], "range": [1.6,1.6,1.6,1.6,1.6,1.6,1.6,3]},
 "legend": {"orient": "none", "legendX": 2, "legendY": 362, "direction": "horizontal", "columns": 8, "symbolType": "stroke", "symbolSize": 400,
 "title": "鸡蛋毛利=鸡蛋收入-现金成本（饲料、人工、水电、疫苗）", "titleOrient": "bottom"}}
}}
]
}
